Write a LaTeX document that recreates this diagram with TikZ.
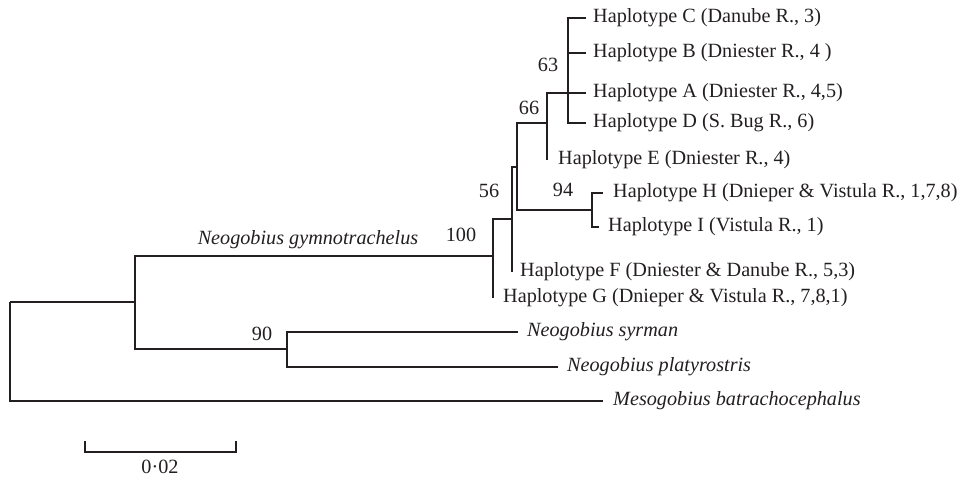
\documentclass[tikz,border=0pt]{standalone}
\usepackage{fontspec}
\setmainfont{Liberation Serif}
\usepackage{tikz}
\usetikzlibrary{positioning}
\definecolor{treeink}{RGB}{35,31,32}
\tikzset{
  branch/.style={line width=1.3pt, color=treeink},
  leaf/.style={anchor=west, inner sep=0pt, text=treeink,
    font=\fontsize{20.2}{24}\selectfont},
  taxon/.style={leaf, font=\fontsize{20.2}{24}\selectfont\itshape},
  boot/.style={inner sep=0pt, text=treeink,
    font=\fontsize{20.2}{24}\selectfont}
}

\begin{document}
\begin{tikzpicture}[x=1pt, y=-1pt]
  \useasboundingbox (0,0) rectangle (964,477);

  % internal nodes (join points)
  \coordinate (root) at (10,302);
  \coordinate (nGym) at (135,302);
  \coordinate (n100) at (493,256);
  \coordinate (n56)  at (512,219);
  \coordinate (nHap) at (517,167);
  \coordinate (n66)  at (547,123);
  \coordinate (n63)  at (568,93);
  \coordinate (n94)  at (592,210);
  \coordinate (n90)  at (287,349);

  % leaf ends
  \coordinate (lC) at (586,18);
  \coordinate (lB) at (586,53);
  \coordinate (lA) at (586,93);
  \coordinate (lD) at (586,123);
  \coordinate (lE) at (547,160);
  \coordinate (lH) at (603,193);
  \coordinate (lI) at (599,227);
  \coordinate (lF) at (512,272);
  \coordinate (lG) at (493,298);
  \coordinate (lSyr) at (518,332);
  \coordinate (lPla) at (558,367);
  \coordinate (lMes) at (603,401);

  % branches
  \draw[branch] (root) |- (nGym);
  \draw[branch] (root) |- (lMes);
  \draw[branch] (nGym) |- (n100);
  \draw[branch] (nGym) |- (n90);
  \draw[branch] (n90) |- (lSyr);
  \draw[branch] (n90) |- (lPla);
  \draw[branch] (n100) |- (n56);
  \draw[branch] (n100) |- (lG);
  \draw[branch] (n56) |- (nHap);
  \draw[branch] (n56) |- (lF);
  \draw[branch] (nHap) |- (n66);
  \draw[branch] (nHap) |- (n94);
  \draw[branch] (n66) |- (n63);
  \draw[branch] (n66) |- (lE);
  \draw[branch] (n94) |- (lH);
  \draw[branch] (n94) |- (lI);
  \foreach \l in {lC,lB,lA,lD}
    \draw[branch] (n63) |- (\l);

  % haplotype labels
  \node[leaf, right=7pt of lC] (tC) {Haplotype C (Danube R., 3)};
  \node[leaf, right=7pt of lB] (tB) {Haplotype B (Dniester R., 4 )};
  \node[leaf, right=7pt of lA] (tA) {Haplotype A (Dniester R., 4,5)};
  \node[leaf, right=7pt of lD] (tD) {Haplotype D (S. Bug R., 6)};
  \node[leaf, right=11pt of lE] (tE) {Haplotype E (Dniester R., 4)};
  \node[leaf, right=10pt of lH] (tH) {Haplotype H (Dnieper \& Vistula R., 1,7,8)};
  \node[leaf, right=9pt of lI] (tI) {Haplotype I (Vistula R., 1)};
  \node[leaf, right=8pt of lF] (tF) {Haplotype F (Dniester \& Danube R., 5,3)};
  \node[leaf, right=10pt of lG] (tG) {Haplotype G (Dnieper \& Vistula R., 7,8,1)};

  % species labels
  \node[taxon, right=9pt of lSyr] (tSyr) {Neogobius syrman};
  \node[taxon, right=9pt of lPla] (tPla) {Neogobius platyrostris};
  \node[taxon, right=10pt of lMes] (tMes) {Mesogobius batrachocephalus};
  \node[boot, font=\fontsize{20.2}{24}\selectfont\itshape] (tGym) at (308,240) {Neogobius gymnotrachelus};

  % bootstrap values
  \node[boot] (b63)  at (548,65)  {63};
  \node[boot] (b66)  at (529,108) {66};
  \node[boot] (b56)  at (489,191) {56};
  \node[boot] (b94)  at (563,190) {94};
  \node[boot] (b100) at (461,235) {100};
  \node[boot] (b90)  at (262,334) {90};

  % scale bar
  \coordinate (sbL) at (85,441);
  \coordinate (sbR) at (236,441);
  \draw[branch] (sbL) |- (160,452) -| (sbR);
  \node[boot] (sbT) at (160,467) {0·02};
\end{tikzpicture}
\end{document}
